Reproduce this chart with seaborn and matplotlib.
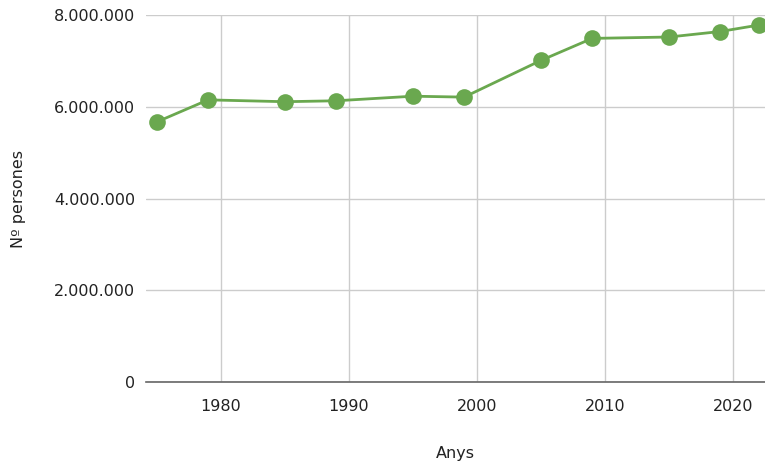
import matplotlib
matplotlib.use("Agg")
import matplotlib.pyplot as plt
import matplotlib.ticker as mticker
import seaborn as sns
import pandas as pd

anys = [1975, 1979, 1985, 1989, 1995, 1999, 2005, 2009, 2015, 2019, 2022]
persones = [5670000, 6150000, 6110000, 6130000, 6230000, 6210000,
            7010000, 7490000, 7520000, 7640000, 7780000]

df = pd.DataFrame({"Anys": anys, "Nº persones": persones})

sns.set_style("white")
plt.rcParams['font.family'] = ['DejaVu Sans']
plt.rcParams['font.sans-serif'] = ['DejaVu Sans']

fig = plt.figure(figsize=(7.65, 4.61), dpi=100)
ax = fig.add_axes([146 / 765, 1 - 382 / 461, 1 - 146 / 765, (382 - 15) / 461])

sns.lineplot(data=df, x="Anys", y="Nº persones", ax=ax, color="#6aa84f",
             linewidth=2, marker="o", markersize=12, markeredgewidth=0,
             clip_on=False, zorder=3)

ax.set_xlim(1974.15, 2022.5)
ax.set_ylim(0, 8000000)
ax.set_xticks([1980, 1990, 2000, 2010, 2020])
ax.set_yticks([0, 2000000, 4000000, 6000000, 8000000])
ax.yaxis.set_major_formatter(mticker.FuncFormatter(lambda v, p: f"{int(v):,}".replace(",", ".")))

ax.grid(True, color="#cccccc", linewidth=1)
ax.set_axisbelow(True)
for s in ["top", "right", "left"]:
    ax.spines[s].set_visible(False)
ax.spines["bottom"].set_color("#666666")
ax.spines["bottom"].set_linewidth(1.2)
ax.spines["bottom"].set_zorder(4)
ax.tick_params(axis="both", length=0, labelsize=11.5, colors="#222222")
ax.tick_params(axis="x", pad=12)
ax.tick_params(axis="y", pad=8)

ax.set_xlabel("Anys", fontsize=11.5, color="#222222", labelpad=23)
ax.set_ylabel("Nº persones", fontsize=11.5, color="#222222", labelpad=20)

fig.savefig("out.png", dpi=100)
